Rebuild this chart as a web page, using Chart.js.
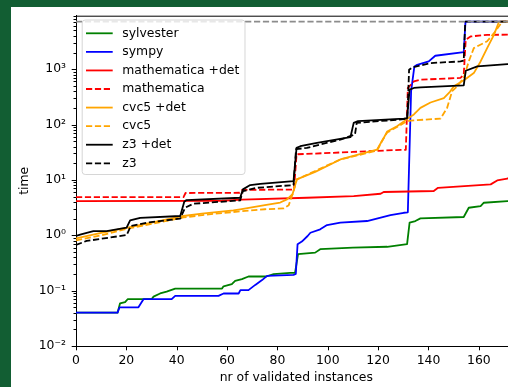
<!DOCTYPE html>
<html>
<head>
<meta charset="utf-8">
<script src="https://cdn.jsdelivr.net/npm/chart.js@4.4.1/dist/chart.umd.min.js"></script>
<style>
  html, body { margin: 0; padding: 0; overflow: hidden; background: #125e33; width: 508px; height: 387px; }
  #wrap { position: absolute; left: 11px; top: 7px; width: 530px; height: 380px; background: #fff; }
</style>
</head>
<body>
<div id="wrap"><canvas id="chart" width="530" height="380"></canvas></div>
<script>
// [instance count, time]
const sylvester = [[0,0.04],[16.5,0.04],[17.5,0.059],[19.5,0.062],[20.5,0.07],[30,0.07],[30.8,0.078],[33.4,0.089],[36,0.096],[39.4,0.109],[58,0.109],[58.6,0.12],[61.9,0.131],[63.2,0.15],[65.9,0.161],[68.5,0.18],[75.5,0.18],[78.5,0.198],[85.1,0.209],[87,0.21],[88.2,0.455],[95,0.486],[97,0.56],[110,0.6],[123.6,0.62],[131.5,0.69],[132.5,1.69],[134.8,1.81],[136.8,2.02],[154,2.14],[156,3.14],[160.7,3.37],[162,3.87],[171.3,4.15],[175,4.2]]
const sympy = [[0,0.04],[16.5,0.04],[17.3,0.05],[24.8,0.05],[26.8,0.07],[38,0.07],[39.4,0.0805],[56.6,0.0805],[58.6,0.0887],[64.6,0.0887],[65.3,0.102],[68.5,0.102],[71.2,0.127],[73.9,0.155],[75.9,0.185],[86.4,0.193],[87.3,0.2],[88,0.69],[89.7,0.77],[92,0.97],[93.1,1.11],[97,1.28],[99.7,1.53],[105,1.69],[115.6,1.81],[124.9,2.32],[130.2,2.55],[131.8,2.6],[133.1,400],[134.4,1120],[135.5,1200],[140.1,1380],[142.7,1750],[154,2030],[154.7,7200],[175,7200]]
const mathematicaDet = [[0,4.15],[58,4.2],[66,4.4],[91.7,4.76],[110.3,5.1],[121,5.62],[122.2,6.05],[142.1,6.3],[143.8,7.2],[164.7,8.3],[167.3,9.8],[171.3,10.6],[175,11]]
const mathematica = [[0,4.9],[42.7,4.9],[43.5,5.8],[65,5.86],[66,6.6],[86.6,6.7],[87.6,29],[110,32],[128.9,35],[131,35],[131.8,460],[134.2,600],[136.8,646],[152.7,695],[154,796],[154.8,3400],[156.7,3900],[163.3,4180],[175,4200]]
const cvc5Det = [[0,0.88],[10,1.1],[21.5,1.41],[30,1.7],[42.7,2.23],[50,2.45],[62.5,2.82],[65.2,2.94],[75,3.5],[81.1,3.9],[83.8,4.45],[86,5.5],[87.7,10.2],[95,14],[105,23.4],[115,31],[119.6,35.4],[122.2,57],[123.6,75],[127.5,93],[132.2,132],[134.2,152],[136.8,200],[140.8,250],[146.1,300],[148.5,390],[150.1,490],[154.5,650],[158,850],[160.7,1380],[163.3,2400],[166,4170],[168,7200],[175,7200]]
const cvc5 = [[0,0.81],[10,1.0],[21.5,1.35],[30,1.6],[42.7,2.1],[55,2.45],[65.2,2.7],[75,2.95],[82.5,3.06],[84.5,3.5],[86.3,6],[87.7,10.2],[95,14.5],[105,23.4],[115,30],[119.6,34],[121.5,50],[123.6,72],[127.5,90],[131,112],[132.9,118],[144.8,128],[147.4,200],[149.4,400],[151.4,490],[154,695],[156,1380],[158,2400],[163.3,3200],[166,4470],[169.3,7200],[175,7200]]
const z3Det = [[0,0.97],[2,1.04],[6.9,1.19],[12.2,1.19],[20.1,1.37],[21.5,1.86],[25.5,2.07],[41.4,2.23],[43,4.03],[43.9,4.33],[65.2,4.76],[66.3,6.74],[69.2,8.06],[73.2,8.5],[86.4,9.5],[87.6,37.9],[89.1,40.6],[95.7,46.6],[109,59],[110.3,107],[112,115],[130.2,128],[131.5,130],[132.5,427],[134.2,458],[136.8,470],[154,510],[154.8,937],[159.4,1120],[171.3,1230],[175,1240]]
const z3 = [[0,0.67],[4.2,0.79],[20.1,1.01],[21.8,1.47],[28.1,1.69],[41.4,2.0],[43.3,3.14],[46.6,3.71],[65.2,4.27],[66.3,6.28],[71.9,7.2],[86.4,8.06],[87.4,36],[91.7,37.9],[105,53.6],[110.8,66],[111.5,107],[130.2,125],[131.6,130],[132.3,980],[133.6,1080],[140.8,1290],[152.7,1380],[154,1430],[154.6,7200],[175,7200]]
const timeout = [[0,7200],[175,7200]]

const xTicks = [0, 20, 40, 60, 80, 100, 120, 140, 160, 180]
const yDecades = [-2, -1, 0, 1, 2, 3]
const sup = { "-": "⁻", "0": "⁰", "1": "¹", "2": "²", "3": "³" }

const LW = 1.8
const dash = [6.2, 2.7]
const series = [
  { label: "sylvester", data: sylvester, color: "green", dashed: false },
  { label: "sympy", data: sympy, color: "blue", dashed: false },
  { label: "mathematica +det", data: mathematicaDet, color: "red", dashed: false },
  { label: "mathematica", data: mathematica, color: "red", dashed: true },
  { label: "cvc5 +det", data: cvc5Det, color: "orange", dashed: false },
  { label: "cvc5", data: cvc5, color: "orange", dashed: true },
  { label: "z3 +det", data: z3Det, color: "black", dashed: false },
  { label: "z3", data: z3, color: "black", dashed: true },
]

const datasets = series.map((s, i) => ({
  label: s.label,
  data: s.data,
  borderColor: s.color,
  borderWidth: LW,
  borderDash: s.dashed ? dash : [],
  pointRadius: 0,
  tension: 0,
  borderJoinStyle: "round",
  order: series.length - i,
  inLegend: true,
}))
datasets.push({
  label: "timeout",
  data: timeout,
  borderColor: "#8c8c8c",
  borderWidth: LW,
  borderDash: dash,
  pointRadius: 0,
  order: 0,
})

Chart.defaults.font.family = "'DejaVu Sans'"
Chart.defaults.font.size = 12.4
Chart.defaults.color = "#000"
const FONT = "12.4px 'DejaVu Sans'"

const extras = {
  id: "extras",
  afterDraw(chart) {
    const { ctx, chartArea: a } = chart
    const xs = chart.scales.x, ys = chart.scales.y
    ctx.save()
    ctx.strokeStyle = "#000"
    ctx.lineWidth = 1
    // spines top/right
    ctx.beginPath()
    ctx.moveTo(a.left, a.top + 0.5); ctx.lineTo(a.right, a.top + 0.5)
    ctx.moveTo(a.right - 0.5, a.top); ctx.lineTo(a.right - 0.5, a.bottom)
    ctx.stroke()
    // x ticks
    ctx.beginPath()
    xTicks.forEach(v => {
      const px = Math.round(xs.getPixelForValue(v)) + 0.5
      ctx.moveTo(px, a.bottom); ctx.lineTo(px, a.bottom + 4.3)
    })
    // y ticks, major + minor
    yDecades.forEach(d => {
      for (let k = 1; k <= 9; k++) {
        const v = k * Math.pow(10, d)
        if (v > ys.max) break
        const py = Math.round(ys.getPixelForValue(v)) + 0.5
        ctx.moveTo(a.left, py); ctx.lineTo(a.left - (k === 1 ? 4.3 : 2.5), py)
      }
    })
    ctx.stroke()

    // legend
    const lx = a.left + 5.7, ly = a.top + 3.8, lw = 162.8, lh = 154.5
    ctx.beginPath()
    ctx.roundRect(lx + 0.5, ly + 0.5, lw, lh, 3)
    ctx.fillStyle = "rgba(255,255,255,0.8)"
    ctx.fill()
    ctx.strokeStyle = "rgba(204,204,204,0.8)"
    ctx.stroke()
    ctx.font = FONT
    ctx.textBaseline = "middle"
    ctx.fillStyle = "#000"
    chart.data.datasets.filter(d => d.inLegend).forEach((d, i) => {
      const y = a.top + 17.6 + i * 18.57
      ctx.beginPath()
      ctx.strokeStyle = d.borderColor
      ctx.lineWidth = LW
      ctx.setLineDash(d.borderDash)
      ctx.moveTo(a.left + 10, y); ctx.lineTo(a.left + 36.7, y)
      ctx.stroke()
      ctx.setLineDash([])
      ctx.fillText(d.label, a.left + 46.3, y)
    })
    ctx.restore()
  },
}

new Chart(document.getElementById("chart"), {
  type: "line",
  data: { datasets },
  options: {
    responsive: false,
    animation: false,
    layout: { padding: { top: 8.7, right: 24.4, left: 0, bottom: 0 } },
    plugins: { legend: { display: false }, tooltip: { enabled: false } },
    scales: {
      x: {
        type: "linear",
        min: 0,
        max: 175,
        afterFit: s => { s.height = 41; s.paddingLeft = 0; s.paddingRight = 0 },
        afterBuildTicks: s => { s.ticks = xTicks.map(v => ({ value: v })) },
        grid: { display: false, drawTicks: false },
        border: { display: true, color: "#000", width: 1 },
        ticks: { padding: 7, maxRotation: 0, autoSkip: false },
        title: { display: true, text: "nr of validated instances", padding: { top: 0, bottom: 1.9 } },
      },
      y: {
        type: "logarithmic",
        min: 0.01,
        max: 9250,
        afterFit: s => { s.width = 65; s.paddingTop = 0; s.paddingBottom = 0 },
        afterBuildTicks: s => { s.ticks = yDecades.map(d => ({ value: Math.pow(10, d) })) },
        grid: { display: false, drawTicks: false },
        border: { display: true, color: "#000", width: 1 },
        ticks: {
          padding: 10,
          autoSkip: false,
          callback: v => "10" + String(Math.round(Math.log10(v))).split("").map(c => sup[c]).join(""),
        },
        title: { display: true, text: "time", padding: { top: 6.6, bottom: 0 } },
      },
    },
  },
  plugins: [extras],
})
</script>
</body>
</html>
